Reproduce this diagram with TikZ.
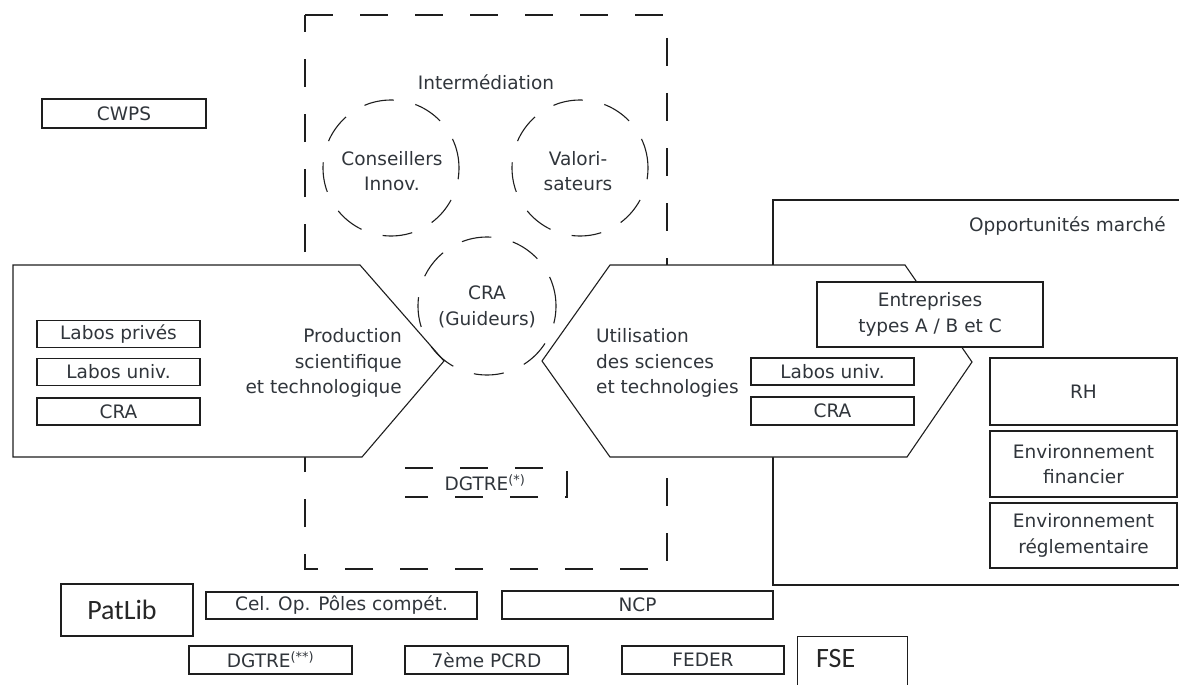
\documentclass[tikz,border=0pt]{standalone}
\usepackage{fontspec}
\setmainfont{DejaVu Sans}
\newfontfamily\calfont{Carlito}
\definecolor{txt}{HTML}{30353B}
\definecolor{ln}{HTML}{1E1E1E}
\begin{document}
\begin{tikzpicture}[x=1pt,y=-1pt,
  every node/.style={text=txt, font=\fontsize{18.5}{25.5}\selectfont, inner sep=0pt, align=center},
  box/.style={draw=ln, line width=1.1pt, fill=white, align=center},
  shapeline/.style={draw=ln, line width=1.1pt, fill=white, line join=miter},
  bigdash/.style={draw=ln, line width=1.1pt, dash pattern=on 28pt off 27pt},
  circdash/.style={draw=ln, line width=1.1pt, circle, minimum size=136pt, dash pattern=on 30pt off 22pt},
  bigtext/.style={font=\calfont\fontsize{28}{30}\selectfont, text=black!85}
]
\useasboundingbox (0,0) rectangle (1179,685);
\clip (0,0) rectangle (1179,685);

% background frames
\draw[bigdash] (305,15) -- (667,15) -- (667,569) -- (305,569) -- cycle;
\draw[draw=ln, line width=1.1pt] (1200,200) -- (773,200) -- (773,585) -- (1200,585);

% right column boxes
\node[box, minimum width=187pt, minimum height=67pt] (rh) at (1083.5,391.5) {RH};
\node[box, minimum width=187pt, minimum height=66pt] (envf) at (1083.5,464) {Environnement\\financier};
\node[box, minimum width=187pt, minimum height=65pt] (envr) at (1083.5,535.5) {Environnement\\réglementaire};
\node[anchor=east] (opp) at (1166,226) {Opportunités marché};

% pentagons
\draw[shapeline] (13,265) -- (360,265) -- (444,361) -- (362,457) -- (13,457) -- cycle;
\draw[shapeline] (610,265) -- (905,265) -- (972,362) -- (907,457) -- (610,457) -- (542,361) -- cycle;

% boxes in left pentagon
\node[box, minimum width=163pt, minimum height=27pt] (lp) at (118.5,334) {Labos privés};
\node[box, minimum width=163pt, minimum height=27pt] (lu) at (118.5,372) {Labos univ.};
\node[box, minimum width=163pt, minimum height=27pt] (lc) at (118.5,411.5) {CRA};
\node[anchor=east, align=right] (prod) at (402,363) {Production\\scientifique\\et technologique};

% boxes in right hexagon
\node[box, minimum width=226pt, minimum height=65pt] (ent) at (930,314.5) {Entreprises\\types A / B et C};
\node[box, minimum width=163pt, minimum height=27pt] (ru) at (832.5,371.5) {Labos univ.};
\node[box, minimum width=163pt, minimum height=28pt] (rc) at (832.5,411) {CRA};
\node[anchor=west, align=left] (util) at (596,363) {Utilisation\\des sciences\\et technologies};

% intermediation
\node (inter) at (486,82) {Intermédiation};
\node[circdash] (cons) at (391,168) {};
\node (const) at (392,171) {Conseillers\\Innov.};
\node[circdash] (valo) at (580,168) {};
\node (valot) at (578,171) {Valori-\\sateurs};
\node[circdash, minimum size=138pt] (cra) at (487,306) {};
\node (crat) at (487,307) {CRA\\(Guideurs)};

% DGTRE (*)
\draw[bigdash] (405,468) -- (567,468) -- (567,497) -- (405,497);
\node (dg1) at (485,483) {DGTRE\textsuperscript{(*)}};

% left and bottom boxes
\node[box, minimum width=164pt, minimum height=29pt] (cwps) at (124,113.5) {CWPS};
\node[box, minimum width=132pt, minimum height=52pt] (patlib) at (127,610) {};
\node[bigtext] (patlibt) at (122,610) {PatLib};
\node[box, minimum width=271pt, minimum height=27pt] (celop) at (341.5,605.5) {Cel. Op. Pôles compét.};
\node[box, minimum width=271pt, minimum height=28pt] (ncp) at (637.5,605) {NCP};
\node[box, minimum width=163pt, minimum height=28pt] (dg2) at (270.5,660) {DGTRE\textsuperscript{(**)}};
\node[box, minimum width=163pt, minimum height=28pt] (pcrd) at (486.5,660) {7ème PCRD};
\node[box, minimum width=162pt, minimum height=28pt] (feder) at (703,660) {FEDER};
\node[box, minimum width=110pt, minimum height=62pt, anchor=north west] (fse) at (797,636) {};
\node[bigtext, anchor=west] (fset) at (816,659) {FSE};
\end{tikzpicture}
\end{document}
